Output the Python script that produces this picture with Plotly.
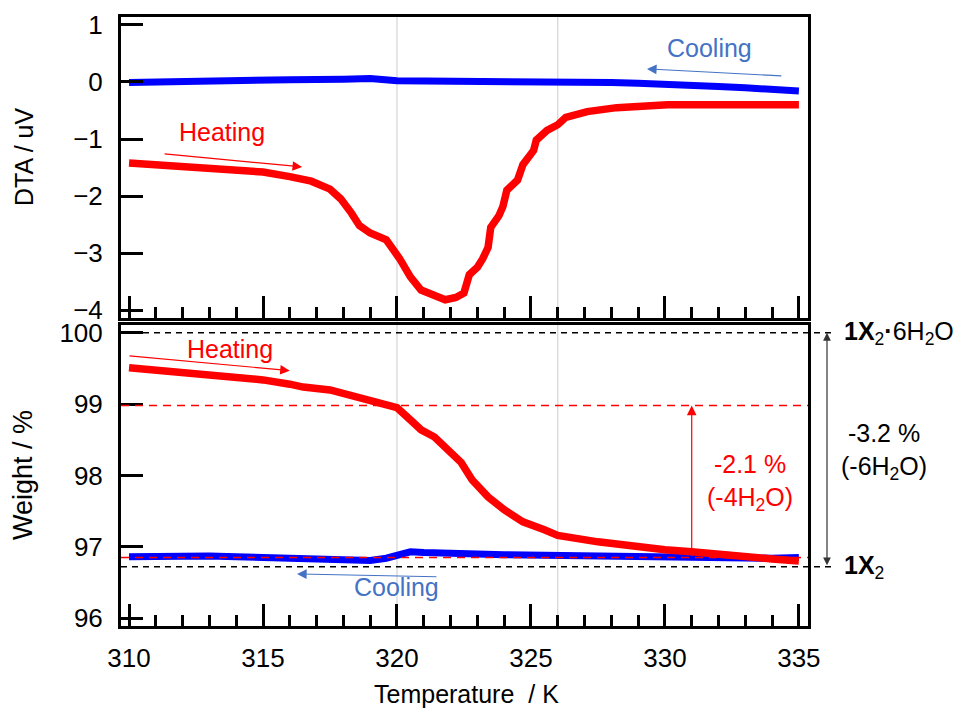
import plotly.graph_objects as go
from plotly.subplots import make_subplots

# ---------------- data ----------------
dta_heat_T = [310, 311, 312, 313, 314, 315, 316, 316.8, 317.5, 317.9, 318.3, 318.6, 319.0, 319.6,
              320.1, 320.5, 320.9, 321.3, 321.8, 322.2, 322.5, 322.7, 323.0, 323.2, 323.4, 323.5,
              323.8, 323.95, 324.1, 324.5, 324.7, 325.1, 325.2, 325.6, 326.0, 326.3, 326.7, 327.1,
              328.2, 329, 330.1, 331, 332.5, 334, 335]
dta_heat_V = [-1.42, -1.45, -1.48, -1.51, -1.55, -1.58, -1.66, -1.74, -1.88, -2.05, -2.3, -2.52,
              -2.65, -2.77, -3.1, -3.42, -3.65, -3.74, -3.82, -3.78, -3.70, -3.38, -3.25, -3.1,
              -2.9, -2.55, -2.35, -2.19, -1.9, -1.72, -1.45, -1.2, -1.02, -0.85, -0.75, -0.62,
              -0.56, -0.52, -0.45, -0.42, -0.40, -0.40, -0.39, -0.40, -0.40]

dta_cool_T = [310, 311, 312, 314, 316, 318, 319, 320, 322, 324, 326, 327, 328, 329, 330, 331,
              332, 333, 334, 335]
dta_cool_V = [-0.01, 0.0, 0.03, 0.03, 0.04, 0.05, 0.06, 0.02, 0.02, 0.02, 0.01, 0.0, -0.01,
              -0.02, -0.03, -0.05, -0.08, -0.10, -0.13, -0.16]

wt_heat_T = [310, 311, 312, 313, 314, 315, 316, 316.5, 317.5, 318.2, 319, 319.5, 320, 320.5,
             320.9, 321.4, 321.9, 322.4, 322.8, 323.4, 324, 324.7, 325.5, 326, 327.5, 328.9,
             330, 331, 332.5, 334, 335]
wt_heat_V = [99.51, 99.48, 99.45, 99.41, 99.38, 99.34, 99.28, 99.24, 99.2, 99.13, 99.04, 99.01,
             98.95, 98.78, 98.64, 98.54, 98.36, 98.18, 97.94, 97.70, 97.52, 97.35, 97.24, 97.16,
             97.07, 97.0, 96.96, 96.93, 96.87, 96.83, 96.80]

wt_cool_T = [310, 311, 312, 313, 314, 315, 316, 317, 318, 319, 319.6, 320, 320.5, 321, 322, 323,
             324, 326, 328, 330, 332, 334, 335]
wt_cool_V = [96.86, 96.87, 96.86, 96.87, 96.86, 96.85, 96.83, 96.81, 96.80, 96.81, 96.84, 96.89,
             96.93, 96.92, 96.90, 96.90, 96.89, 96.88, 96.85, 96.85, 96.84, 96.84, 96.85]

level_hydrate = 100.0      # 1X2·6H2O
level_anhydrous = 96.72    # 1X2
level_step_top = 98.98
level_step_bot = 96.85

x_ticks = [310, 315, 320, 325, 330, 335]
dta_ticks = [-4, -3, -2, -1, 0, 1]
wt_ticks = [96, 97, 98, 99, 100]

RED = "#FF0000"
BLUE = "#0000FF"
LBLUE = "#4472C4"
FONT = "Arial, Liberation Sans, sans-serif"
FS = 25
TFS = 26

fig = make_subplots(rows=2, cols=1, shared_xaxes=True)

fig.add_trace(go.Scatter(x=dta_cool_T, y=dta_cool_V, mode="lines",
                         line=dict(color=BLUE, width=7), showlegend=False), row=1, col=1)
fig.add_trace(go.Scatter(x=dta_heat_T, y=dta_heat_V, mode="lines",
                         line=dict(color=RED, width=7.5), showlegend=False), row=1, col=1)
fig.add_trace(go.Scatter(x=wt_cool_T, y=wt_cool_V, mode="lines",
                         line=dict(color=BLUE, width=7), showlegend=False), row=2, col=1)
fig.add_trace(go.Scatter(x=wt_heat_T, y=wt_heat_V, mode="lines",
                         line=dict(color=RED, width=7.5), showlegend=False), row=2, col=1)

xdom = [121 / 964, 808 / 964]
xcommon = dict(range=[309.7, 335.34], tickvals=x_ticks, ticks="inside", ticklen=22,
               tickwidth=3, tickcolor="black", showline=True, mirror=True, linewidth=3,
               linecolor="black", showgrid=False, zeroline=False, domain=xdom,
               minor=dict(dtick=1, tick0=310, ticks="inside", ticklen=11, tickwidth=2.5,
                          tickcolor="black", showgrid=False),
               tickfont=dict(size=TFS, color="black", family=FONT))
ycommon = dict(ticks="inside", ticklen=22, tickwidth=3, tickcolor="black", showline=True,
               mirror=True, linewidth=3, linecolor="black", showgrid=False, zeroline=False,
               tickfont=dict(size=TFS, color="black", family=FONT), ticklabelstandoff=10)

fig.update_xaxes(**xcommon)
fig.update_xaxes(showticklabels=False, row=1, col=1)
fig.update_xaxes(ticklabelstandoff=7, row=2, col=1)
fig.update_yaxes(**ycommon)
fig.update_yaxes(range=[-4.14, 1.14], tickvals=dta_ticks, domain=[1 - 318 / 709, 1 - 17 / 709],
                 row=1, col=1)
fig.update_yaxes(range=[95.89, 100.11], tickvals=wt_ticks, domain=[1 - 626 / 709, 1 - 325 / 709],
                 row=2, col=1)

shapes = []
# faint vertical lines
for xv in [320, 326]:
    shapes.append(dict(type="line", xref="x2", yref="paper", x0=xv, x1=xv,
                       y0=1 - 626 / 709, y1=1 - 17 / 709, layer="below",
                       line=dict(color="#d4d4d4", width=1.2)))
# black dashed reference lines
for lv in [level_hydrate, level_anhydrous]:
    shapes.append(dict(type="line", xref="paper", yref="y2", x0=121 / 964, x1=835 / 964,
                       y0=lv, y1=lv, line=dict(color="black", width=1.5, dash="6px,5px")))
# red dashed lines
for lv in [level_step_top, level_step_bot]:
    shapes.append(dict(type="line", xref="x2 domain", yref="y2", x0=0, x1=1,
                       y0=lv, y1=lv, line=dict(color=RED, width=1.5, dash="8px,6px")))
fig.update_layout(shapes=shapes)

ann = []
def arrow(x, y, ax, ay, color, xr="x", yr="y", side="end", w=1.2):
    ann.append(dict(x=x, y=y, ax=ax, ay=ay, xref=xr, yref=yr, axref=xr, ayref=yr, text="",
                    showarrow=True, arrowhead=2, arrowsize=1.6, arrowwidth=w,
                    arrowcolor=color, arrowside=side))

def label(x, y, text, color="black", xr="x", yr="y", xanchor="center", angle=0, size=FS):
    ann.append(dict(x=x, y=y, xref=xr, yref=yr, text=text, showarrow=False,
                    xanchor=xanchor, yanchor="middle", textangle=angle,
                    font=dict(size=size, color=color, family=FONT)))

# top panel
label(313.47, -0.88, "Heating", RED)
arrow(316.46, -1.49, 311.27, -1.26, RED)
label(331.68, 0.60, "Cooling", LBLUE)
arrow(329.33, 0.23, 334.40, 0.105, LBLUE)
# bottom panel
label(313.77, 99.78, "Heating", RED, "x2", "y2")
arrow(316.0, 99.47, 309.96, 99.68, RED, "x2", "y2")
label(320.0, 96.43, "Cooling", LBLUE, "x2", "y2")
arrow(316.27, 96.62, 321.53, 96.58, LBLUE, "x2", "y2")
arrow(331.0, level_step_top, 331.0, level_step_bot, RED, "x2", "y2", w=1.2)
label(333.17, 97.9, "-2.1 %<br>(-4H<sub>2</sub>O)", RED, "x2", "y2")
# double arrow outside
ann.append(dict(x=827 / 964, y=level_hydrate, xref="paper", yref="y2", ax=0,
                ay=level_anhydrous, axref="pixel", ayref="y2", text="", showarrow=True,
                arrowhead=2, startarrowhead=2, arrowsize=1.3, startarrowsize=1.3,
                arrowwidth=1.2, arrowcolor="#333333", arrowside="end+start"))
label(884 / 964, 98.33, "-3.2 %<br>(-6H<sub>2</sub>O)", "black", "paper", "y2")
label(842 / 964, level_hydrate, "<b>1X</b><sub>2</sub><b>·</b>6H<sub>2</sub>O", "black",
      "paper", "y2", xanchor="left")
label(842 / 964, level_anhydrous, "<b>1X</b><sub>2</sub>", "black", "paper", "y2",
      xanchor="left")
# axis titles
label(24 / 964, 1 - 157 / 709, "DTA / uV", "black", "paper", "paper", angle=-90)
label(23 / 964, 1 - 475 / 709, "Weight / %", "black", "paper", "paper", angle=-90, size=27)
label(466 / 964, 1 - 694 / 709, "Temperature  / K", "black", "paper", "paper")

fig.update_layout(annotations=ann, width=964, height=709,
                  margin=dict(l=0, r=0, t=0, b=0, autoexpand=False),
                  paper_bgcolor="white", plot_bgcolor="white",
                  font=dict(family=FONT, size=FS, color="black"))

fig.write_html("out.html")
